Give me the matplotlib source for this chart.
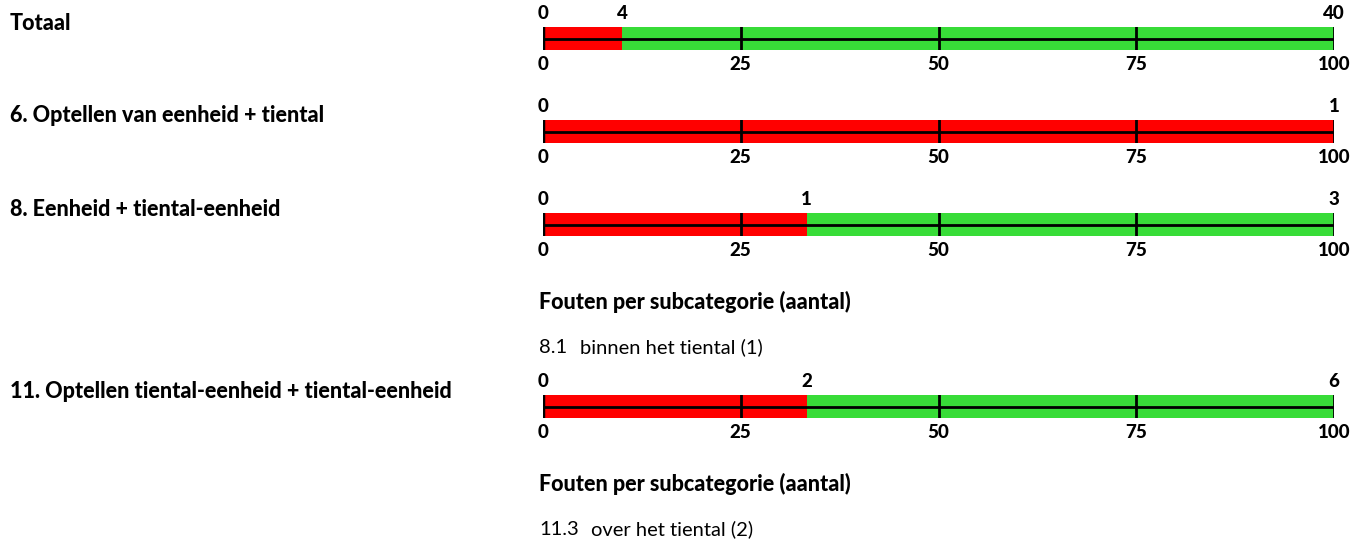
import matplotlib
matplotlib.use("Agg")
import matplotlib.pyplot as plt
from matplotlib.transforms import blended_transform_factory

plt.rcParams['font.family'] = ['Lato', 'DejaVu Sans']

categories = ["Totaal",
              "6. Optellen van eenheid + tiental",
              "8. Eenheid + tiental-eenheid",
              "11. Optellen tiental-eenheid + tiental-eenheid"]
errors = [4, 1, 1, 2]
totals = [40, 1, 3, 6]
axis_ticks = [0, 25, 50, 75, 100]
subcats = [None, None, [("8.1", "binnen het tiental (1)")], [("11.3", "over het tiental (2)")]]
subcat_title = "Fouten per subcategorie (aantal)"

RED = "#FF0000"
GREEN = "#38DC38"

W, H = 1363, 540
fig = plt.figure(figsize=(W / 100, H / 100), dpi=100)

x0, x1 = 543, 1334
bar_tops = [27, 120, 213, 395]
bar_h = 23
TICK_FS = 13.5
LABEL_FS = 15.5
HEAVY = 900

def fy(py):
    return 1 - py / H

for i, cat in enumerate(categories):
    top = bar_tops[i]
    ax = fig.add_axes([x0 / W, fy(top + bar_h), (x1 - x0) / W, bar_h / H])
    pct = errors[i] / totals[i] * 100
    ax.barh(0, pct, left=0, height=1, color=RED)
    ax.barh(0, 100 - pct, left=pct, height=1, color=GREEN)
    ax.set_xlim(0, 100)
    ax.set_ylim(-0.5, 0.5)
    ax.axhline(0, color="black", lw=2)
    for t in axis_ticks:
        ax.axvline(t, color="black", lw=2 if t else 2.5)
    for s in ax.spines.values():
        s.set_visible(False)
    ax.set_yticks([])
    ax.set_xticks(axis_ticks)
    ax.set_xticklabels([str(t) for t in axis_ticks], fontweight=HEAVY, fontsize=TICK_FS)
    ax.tick_params(axis="x", length=0, pad=4)
    ax.margins(0)
    trans = blended_transform_factory(ax.transData, ax.transAxes)
    ax.text(0, 1.2, "0", transform=trans, ha="center", va="bottom",
            fontweight=HEAVY, fontsize=TICK_FS)
    if 0 < errors[i] < totals[i]:
        ax.text(pct, 1.2, str(errors[i]), transform=trans, ha="center",
                va="bottom", fontweight=HEAVY, fontsize=TICK_FS)
    ax.text(100, 1.2, str(totals[i]), transform=trans, ha="center",
            va="bottom", fontweight=HEAVY, fontsize=TICK_FS)
    fig.text(10 / W, fy(top - 4), cat, ha="left", va="center",
             fontweight=HEAVY, fontsize=LABEL_FS)
    if subcats[i]:
        fig.text(539 / W, fy(top + 89), subcat_title, ha="left", va="center",
                 fontweight=HEAVY, fontsize=LABEL_FS)
        for j, (code, name) in enumerate(subcats[i]):
            base = fy(top + 140 + 30 * j)
            fig.text(539 / W, base, code, ha="left",
                     va="baseline", fontsize=14.5)
            fig.text((539 + 11 * len(code) + 8) / W, base, name,
                     ha="left", va="baseline", fontsize=14.5)

fig.savefig("out.png", dpi=100)
